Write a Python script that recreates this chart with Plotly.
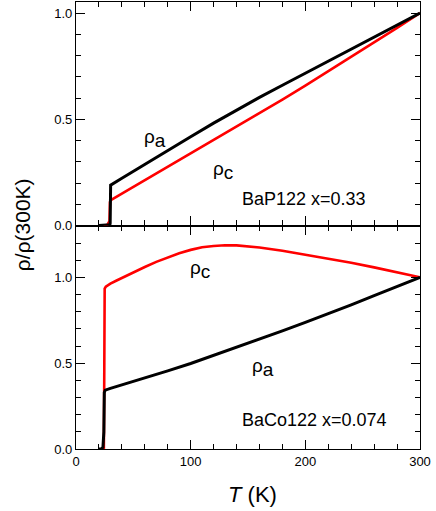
import plotly.graph_objects as go

# ---------------- data ----------------
# Top panel: BaP122 x=0.33
T_p_a = [20, 28, 29.5, 29.8, 30.2, 40, 60, 80, 100, 120, 140, 160, 180, 200, 220, 240, 260, 280, 300]
rho_p_a = [0.0, 0.0, 0.003, 0.01, 0.19, 0.222, 0.288, 0.353, 0.418, 0.482, 0.544, 0.603, 0.66, 0.717, 0.773, 0.83, 0.885, 0.942, 1.0]

T_p_c = [24, 27, 28, 29.2, 29.6, 30, 40, 60, 80, 100, 120, 140, 160, 180, 200, 220, 240, 260, 280, 300]
rho_p_c = [0.0, 0.0, 0.01, 0.02, 0.11, 0.118, 0.15, 0.213, 0.277, 0.34, 0.403, 0.465, 0.527, 0.592, 0.658, 0.725, 0.792, 0.86, 0.93, 1.0]

# Bottom panel: BaCo122 x=0.074
T_co_a = [20, 22, 23.5, 24.3, 24.7, 25.5, 30, 40, 60, 80, 100, 120, 140, 160, 180, 200, 220, 240, 260, 280, 300]
rho_co_a = [0.0, 0.0, 0.01, 0.1, 0.33, 0.343, 0.353, 0.373, 0.413, 0.455, 0.498, 0.545, 0.593, 0.64, 0.688, 0.738, 0.788, 0.84, 0.893, 0.946, 1.0]

T_co_c = [23, 24.3, 24.7, 25.0, 26, 28, 30, 35, 40, 50, 60, 70, 80, 90, 100, 110, 120, 130, 140, 150,
          160, 180, 200, 220, 240, 260, 280, 300]
rho_co_c = [0.0, 0.0, 0.5, 0.934, 0.945, 0.955, 0.963, 0.98, 0.997, 1.03, 1.06, 1.09, 1.115, 1.14, 1.16,
            1.175, 1.183, 1.187, 1.186, 1.181, 1.174, 1.155, 1.133, 1.11, 1.085, 1.058, 1.03, 1.0]

x_range = [0, 300]
top_range = [0, 1.052]
bot_range = [0, 1.302]

FONT = "Liberation Sans, Arial, Helvetica, sans-serif"

fig = go.Figure()
# top panel traces
fig.add_trace(go.Scatter(x=T_p_c, y=rho_p_c, mode="lines", line=dict(color="#ff0000", width=2.6),
                         xaxis="x2", yaxis="y2", showlegend=False))
fig.add_trace(go.Scatter(x=T_p_a, y=rho_p_a, mode="lines", line=dict(color="black", width=3),
                         xaxis="x2", yaxis="y2", showlegend=False))
# bottom panel traces
fig.add_trace(go.Scatter(x=T_co_c, y=rho_co_c, mode="lines", line=dict(color="#ff0000", width=2.6),
                         xaxis="x", yaxis="y", showlegend=False))
fig.add_trace(go.Scatter(x=T_co_a, y=rho_co_a, mode="lines", line=dict(color="black", width=3),
                         xaxis="x", yaxis="y", showlegend=False))

common_axis = dict(showline=True, linecolor="black", linewidth=1.2, mirror="allticks",
                   ticks="inside", ticklen=9, tickwidth=1.1, tickcolor="black",
                   showgrid=False, zeroline=False,
                   tickfont=dict(family=FONT, size=13, color="black"))

fig.update_layout(
    width=436, height=511,
    margin=dict(l=76, r=16, t=2, b=62),
    paper_bgcolor="white", plot_bgcolor="white",
    xaxis=dict(**common_axis, range=x_range, dtick=100, tick0=0, anchor="y",
               minor=dict(ticks="inside", ticklen=5, dtick=20, tickwidth=1.1, tickcolor="black")),
    xaxis2=dict(**common_axis, range=x_range, dtick=100, tick0=0, anchor="y2", matches="x",
                showticklabels=False,
                minor=dict(ticks="inside", ticklen=5, dtick=20, tickwidth=1.1, tickcolor="black")),
    yaxis=dict(**common_axis, range=bot_range, dtick=0.5, tick0=0, tickformat=".1f",
               domain=[0, 0.5], anchor="x",
               minor=dict(ticks="inside", ticklen=5, dtick=0.1, tickwidth=1.1, tickcolor="black")),
    yaxis2=dict(**common_axis, range=top_range, dtick=0.5, tick0=0, tickformat=".1f",
                domain=[0.5, 1], anchor="x2",
                minor=dict(ticks="inside", ticklen=5, dtick=0.1, tickwidth=1.1, tickcolor="black")),
)

lab_font = dict(family=FONT, size=18, color="black")
rho_font = dict(family=FONT, size=19, color="black")
sub_a = "ρ<sub><span style='font-size:19px'>a</span></sub>"
sub_c = "ρ<sub><span style='font-size:19px'>c</span></sub>"

annots = [
    dict(x=69.3, y=0.41, xref="x2", yref="y2", text=sub_a, font=rho_font),
    dict(x=128.6, y=0.259, xref="x2", yref="y2", text=sub_c, font=rho_font),
    dict(x=198.8, y=0.127, xref="x2", yref="y2", text="BaP122 x=0.33", font=lab_font),
    dict(x=108, y=1.043, xref="x", yref="y", text=sub_c, font=rho_font),
    dict(x=163, y=0.475, xref="x", yref="y", text=sub_a, font=rho_font),
    dict(x=208.4, y=0.169, xref="x", yref="y", text="BaCo122 x=0.074", font=lab_font),
    dict(x=-0.157, y=0.503, xref="paper", yref="paper", text="ρ/ρ(300K)", textangle=-90,
         font=dict(family=FONT, size=21, color="black")),
    dict(x=0.512, y=-0.1007, xref="paper", yref="paper", text="<i>T</i> (K)",
         font=dict(family=FONT, size=22, color="black")),
]
for a in annots:
    a.setdefault("showarrow", False)
    a.setdefault("xanchor", "center")
    a.setdefault("yanchor", "middle")
    fig.add_annotation(**a)

fig.write_html("out.html", config={"displayModeBar": False},
               post_script="document.body.style.margin='0';document.body.style.padding='0';")
